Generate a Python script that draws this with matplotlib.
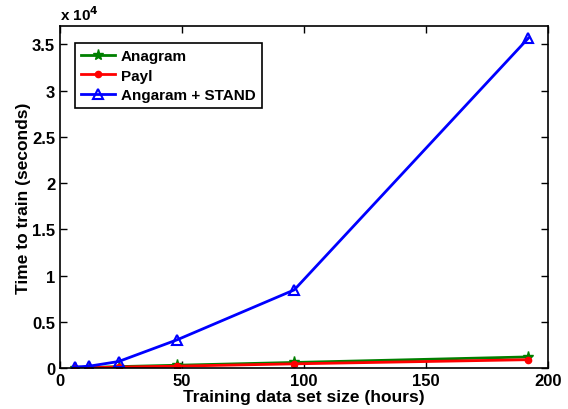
import matplotlib.pyplot as plt
from matplotlib.ticker import FuncFormatter

plt.rcParams['font.family'] = ['Liberation Sans', 'DejaVu Sans']
plt.rcParams['font.weight'] = 'bold'

hours = [6, 12, 24, 48, 96, 192]
anagram = [20, 50, 150, 300, 600, 1200]
payl = [10, 30, 100, 200, 450, 900]
stand = [100, 200, 700, 3050, 8450, 35700]

fig = plt.figure(figsize=(5.68, 4.10), dpi=100)
ax = fig.add_axes([60/568, 1 - 369/410, 488/568, 342/410])

ax.plot(hours, anagram, color='green', lw=2, marker='*', ms=8, label='Anagram')
ax.plot(hours, payl, color='red', lw=2, marker='.', ms=9, label='Payl')
ax.plot(hours, stand, color='blue', lw=2, marker='^', ms=7, mfc='none', mew=1.5,
        label='Angaram + STAND')

ax.set_xlim(0, 200)
ax.set_ylim(0, 37000)
ax.set_xticks([0, 50, 100, 150, 200])
ax.set_yticks([0, 5000, 10000, 15000, 20000, 25000, 30000, 35000])
ax.yaxis.set_major_formatter(FuncFormatter(lambda v, p: '%g' % (v / 1e4)))
ax.tick_params(direction='in', top=True, right=True, labelsize=12, width=1, length=5)
for s in ax.spines.values():
    s.set_linewidth(1.2)

ax.text(0, 1.01, r'x 10$^4$', transform=ax.transAxes, fontsize=11, fontweight='bold',
        ha='left', va='bottom')

ax.set_xlabel('Training data set size (hours)', fontsize=12.5, fontweight='bold', labelpad=1)
ax.set_ylabel('Time to train (seconds)', fontsize=12.5, fontweight='bold', labelpad=1)

leg = ax.legend(loc='upper left', bbox_to_anchor=(0.031, 0.95), borderaxespad=0,
                fancybox=False, framealpha=1, edgecolor='black', fontsize=11,
                handlelength=2.2, borderpad=0.4, labelspacing=0.35, handletextpad=0.4)
leg.get_frame().set_linewidth(1.2)

fig.savefig('out.png', dpi=100)
